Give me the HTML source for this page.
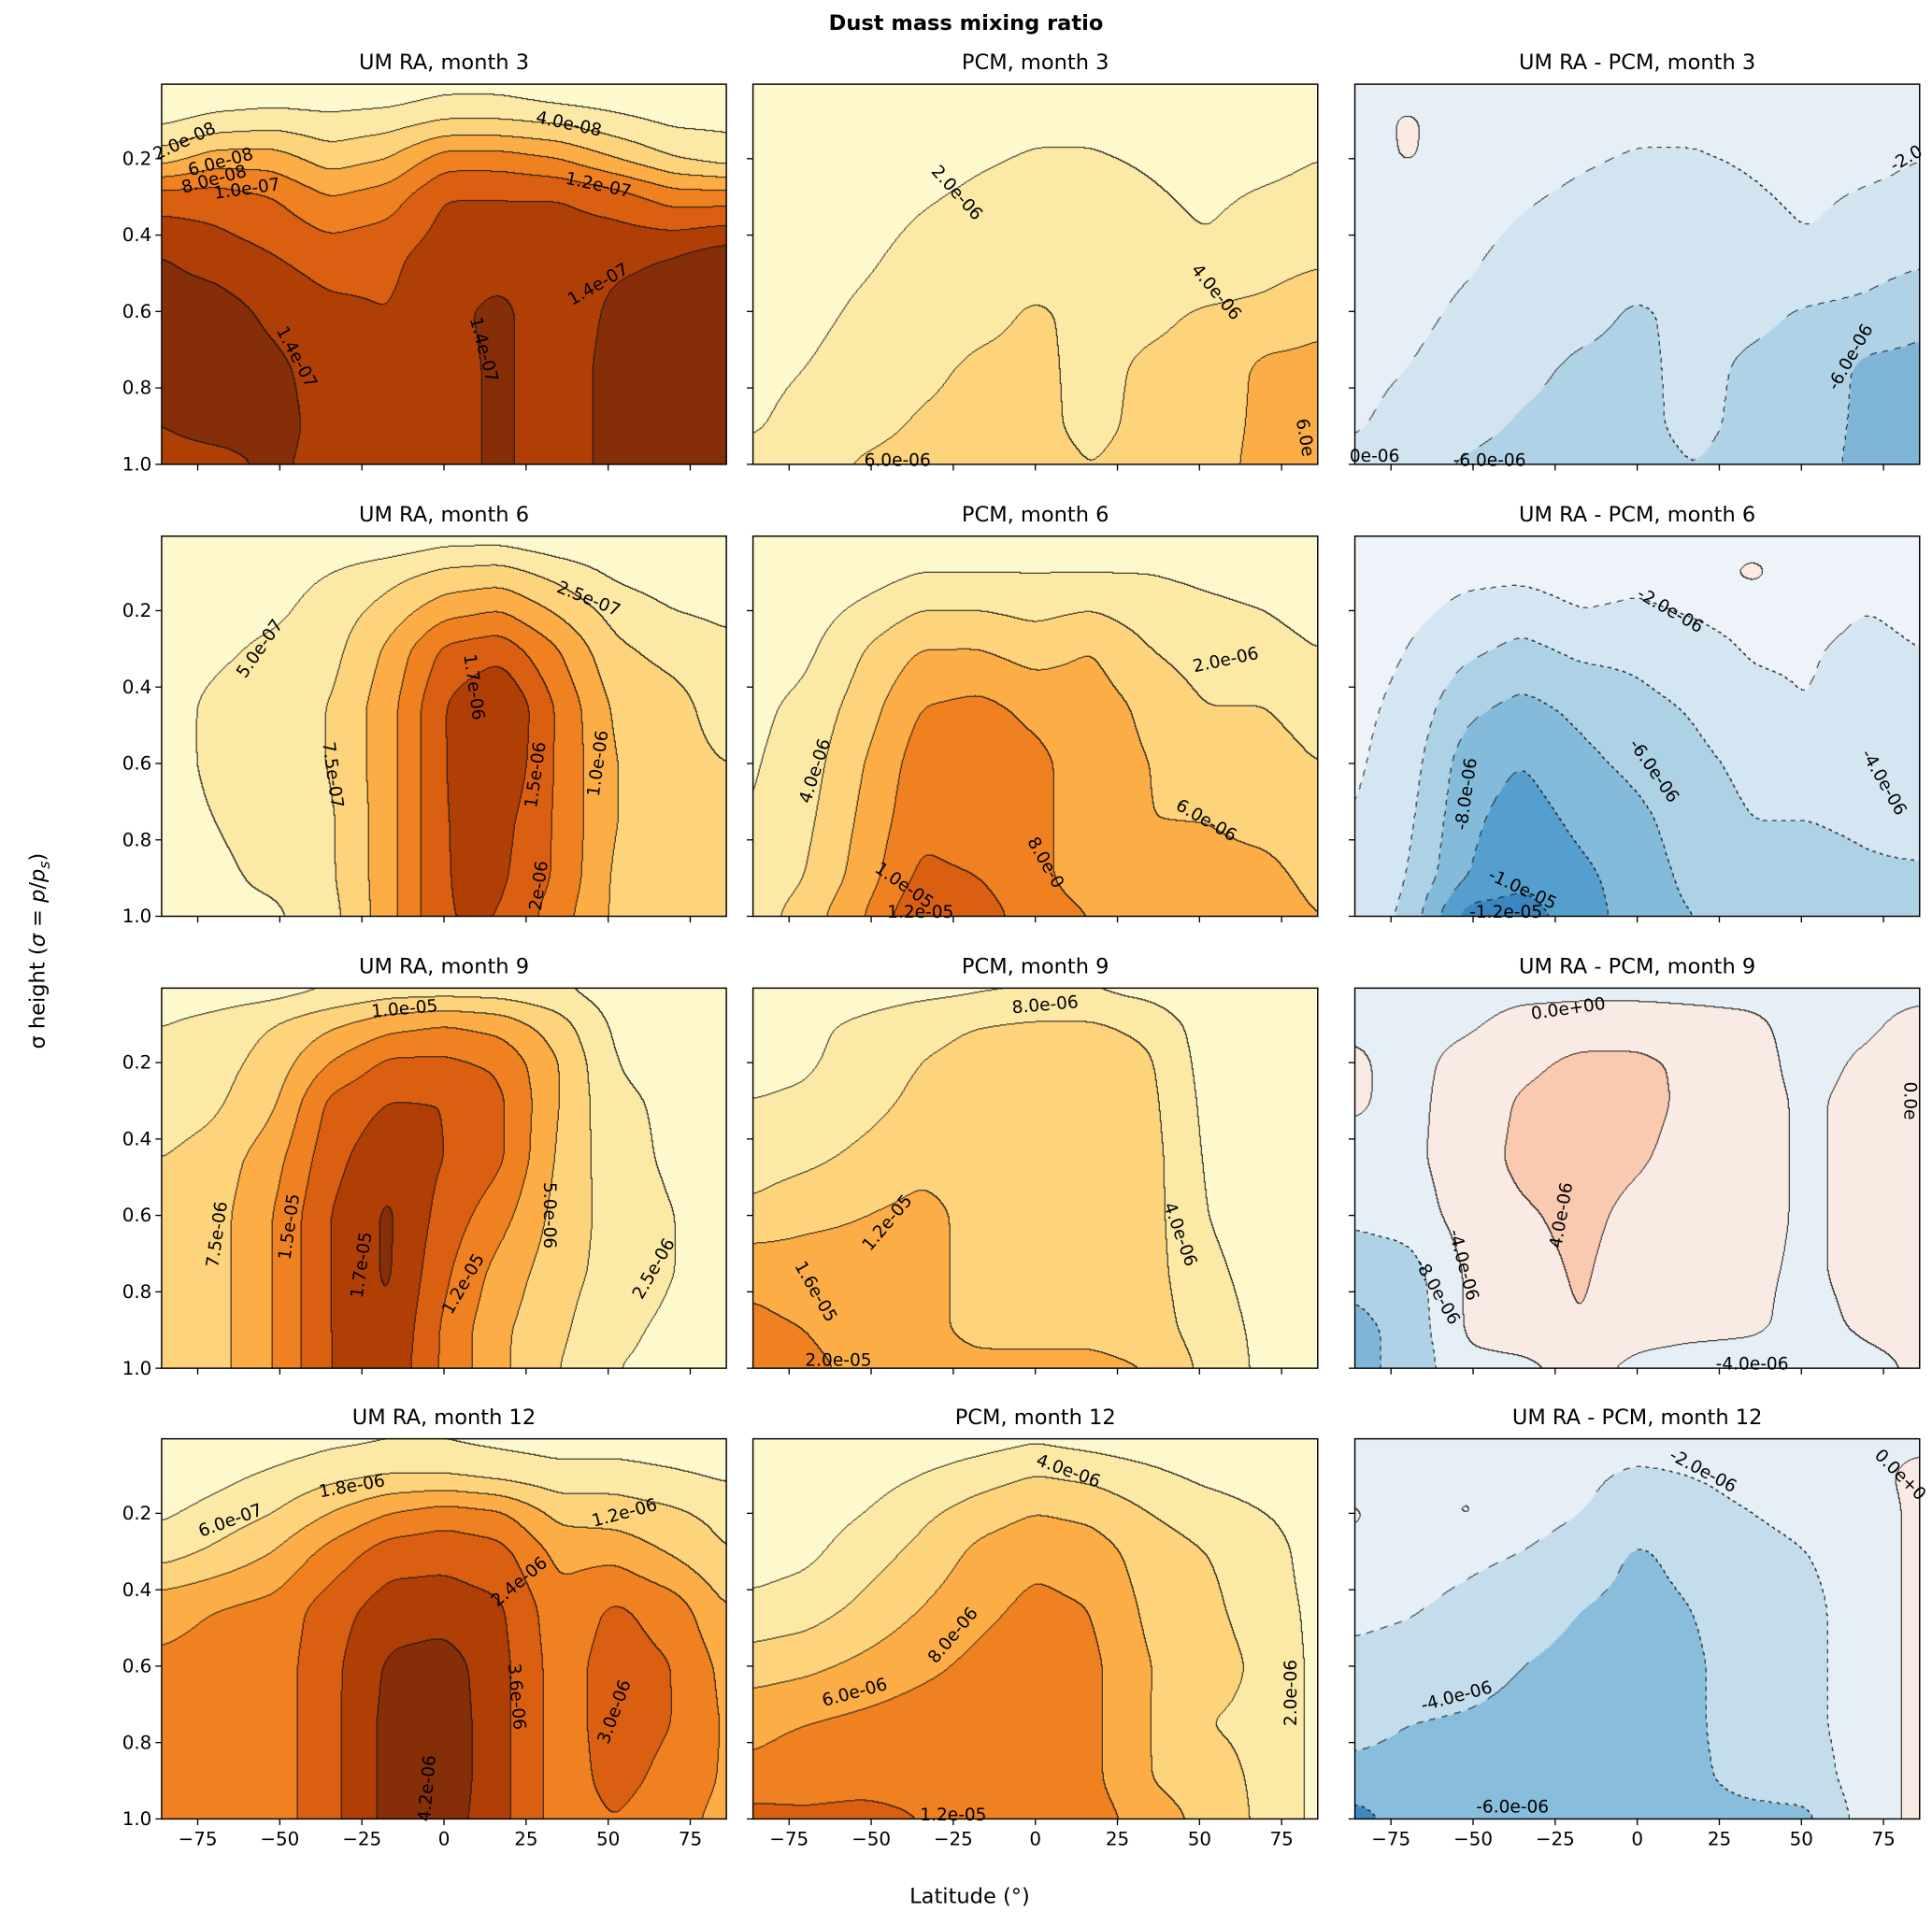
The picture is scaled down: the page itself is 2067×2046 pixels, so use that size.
<!DOCTYPE html>
<html><head><meta charset="utf-8">
<style>
html,body{margin:0;padding:0;background:#fff;}
#wrap{position:absolute;left:0;top:0;width:1560px;height:1543.4px;transform:scale(1.325);transform-origin:0 0;}
canvas{position:absolute;}
svg{position:absolute;left:0;top:0;}
text{font-family:"DejaVu Sans","Liberation Sans",sans-serif;fill:#000;}
</style></head>
<body>
<div id="wrap">
<svg id="svg" width="1560" height="1544" viewBox="0 0 1560 1544"></svg>
</div>
<script>
// ---- grid coordinates ----
const LATS=[-86,-70,-52,-35,-17,0,17,35,52,70,86];
const SIGS=[0,0.1,0.2,0.3,0.45,0.6,0.75,0.9,1.0];
const xTicks=[-75,-50,-25,0,25,50,75];
const xTickLabels=["\u221275","\u221250","\u221225","0","25","50","75"];
const yTicks=[0.2,0.4,0.6,0.8,1.0];
const yTickLabels=["0.2","0.4","0.6","0.8","1.0"];

// ---- panel values (rows = sigma levels, cols = latitudes) ----
const umM3=[ // units 1e-8
[0,0,0,0,0,1,1,0,0,0,0],
[1.5,2.5,3,2.5,3,4,4,3.5,2.5,1.5,1.5],
[5,7,7,5,6,9,9,8,6,4,3],
[11,11,10,8,9,12,12,12,11,9,9],
[14,13,12,11,11.5,13,13,13,13.5,14,15],
[15,15,13.5,12.5,12,13.5,14.5,12.5,14.5,15,15],
[15,15,14.5,13,12,13,14.5,12.5,15,15,15],
[14,15,15,13,12,13,14.5,12.5,15,15,15],
[13,13,14.5,13,12,13,14.5,12.5,15,15,15]];
const pcmM3=[ // units 1e-6
[1,1,1,1,1,1,1,1,1,1,1],
[1,1,1,1,1,1.5,1.5,1,1,1,1],
[1,1,1,1.3,1.8,2.2,2.2,1.8,1.3,1.5,2],
[1,1,1.2,1.8,2.3,2.6,2.6,2.2,1.7,2.2,2.5],
[1,1.2,1.7,2.5,3,3,3,2.7,2.2,3,3.5],
[1.2,1.5,2.3,3,3.5,4.2,3.6,3.6,4.2,4.5,5.5],
[1.5,2,2.8,3.6,4.3,4.4,3.5,4.3,4.6,6.5,6.5],
[1.8,2.6,3.5,4.2,4.5,4.5,3.5,4.5,5,6.5,7],
[2.5,3.5,4.2,4.6,4.7,4.7,4,4.7,5.2,6.6,7]];
const diffM3=[ // units 1e-6
[-0.5,-1,-1,-1,-1,-1,-1,-1,-1,-1,-1],
[-1,0.3,-1,-1,-1,-1.5,-1.5,-1,-1,-1,-1],
[-1,0.2,-1,-1.3,-1.8,-2.2,-2.2,-1.8,-1.3,-1.5,-2],
[-1,-1,-1.2,-1.8,-2.3,-2.6,-2.6,-2.2,-1.7,-2.2,-2.5],
[-1,-1.2,-1.7,-2.5,-3,-3,-3,-2.7,-2.2,-3,-3.5],
[-1.2,-1.5,-2.3,-3,-3.5,-4.2,-3.6,-3.6,-4.2,-4.5,-5.5],
[-1.5,-2,-2.8,-3.6,-4.3,-4.4,-3.5,-4.3,-4.6,-6.5,-6.5],
[-1.8,-2.6,-3.5,-4.2,-4.5,-4.5,-3.5,-4.5,-5,-6.5,-7],
[-2.5,-3.5,-4.2,-4.6,-4.7,-4.7,-4,-4.7,-5.2,-6.6,-7]];
const umM6=[ // units 1e-7
[0,0,0,0,0,1,1,0,0,0,0],
[0.5,1,1.5,2.5,4,5.5,6,4,2,1,0.5],
[1,1.5,2,3.5,6,9,10,7,4,2.5,2],
[1.5,2,3,4,8,13,14,10,5.5,4,3],
[1.5,3,4,5,9,15,18,12,7,6,3.5],
[1.5,3,4,5,9,15,17.5,12,7.5,6,5],
[1.5,2.5,3.5,4.5,9,15,16,12,7.5,6,5.5],
[1.5,2,3,4.5,9,15,15.5,12,7,6,5.5],
[1.5,2,2,4,9,15,15,11,7,6,5.5]];
const pcmM6=[ // units 1e-6
[0,0,0,0,0,0,0,0,0,0,0],
[0,0.5,1,2,2,2,2,2,1.5,1,0.5],
[0.5,1,2.5,4,4,3.5,4,3,2.5,2,1],
[1,1.5,4,6,6,5,6,4,3,3,2],
[1.5,2.5,5,8,8.5,7.5,7,5.5,4,4,3],
[1.8,3,6,9,9,8.5,7,6,5,5,4],
[2,3.5,6.5,9.5,9,8.5,7,6,6,5.5,5],
[2.5,4,7,10.5,10,8.5,7,6.5,6.5,6.5,5.5],
[3,5,8,12,11,9,8,7,7,7,6]];
const diffM6=[ // units 1e-6
[-1,-1,-1,-1,-1,-1,-1,-1,-1,-1,-1],
[-1,-1,-1.5,-1.5,-1,-1.5,-1,0.5,-1,-1,-1],
[-1,-1.5,-2.5,-3,-2,-2.3,-1.8,-1.2,-1.3,-2,-1.5],
[-1.2,-2,-3.5,-4.5,-3.5,-3.5,-2.8,-1.8,-1.8,-2.5,-2],
[-1.5,-2.5,-5.5,-6.5,-5.5,-4.5,-3.8,-2.5,-2,-3,-2.5],
[-1.7,-3,-7,-8,-6.5,-5.5,-4.5,-3.5,-3.5,-3.5,-3],
[-2,-3.5,-7.5,-9,-7.5,-6.5,-5,-4,-4,-3.8,-3.5],
[-2.2,-4,-8,-9.5,-8.5,-7,-5.5,-4.5,-4.5,-4.2,-4.2],
[-2.5,-4.5,-11,-11,-9,-7,-6,-6,-6,-6,-5]];
const umM9=[ // units 1e-6
[0,0.5,1,2,3,3,3,2.5,1,0,0],
[2.5,3.5,5,7,9,10,9,6,2,1,0.5],
[3,4,6,10,13,13,12,7.5,2.5,1.5,1],
[3.5,4.5,7,13,15,15,13,7.5,3,2,1.5],
[5,6,9,14,17,15,13,7,3.5,2,1.5],
[5.5,6.5,10,15,18,14,11,6.5,4,2.5,1.5],
[5.5,6.5,10,15,18,13,9,6,4,2.5,1.5],
[5.5,6.5,10,15,17.5,12,8,5.5,3,2,1.5],
[5.5,6.5,10,15,17,12,8,5,2.5,2,1.5]];
const pcmM9=[ // units 1e-6
[0,0,1,2,3,3.5,3.5,2,0,0,0],
[2,3,5,7,8,8.5,8.5,7,2,1,1],
[3,3.5,5.5,8,9,10,10,8.5,2.5,1,1],
[4,4.5,6.5,9,10,10,10,9,3,1.5,1],
[6,7,9,11,11,10.5,10.5,9.5,3.5,2,1],
[9,11,12,13,11,10.5,10.5,9.5,4,2,1],
[15,14,13.5,13,11,10.5,10.5,9.5,5,2.5,1.5],
[17,16,14,13,11,11,11,10,6,3,1.5],
[19,17,15,13.5,13,13,13,12,7,3,2]];
const diffM9=[ // units 1e-6
[-1,-1,-1,-1,-1,-1,-1,-1,-1,-1,-1],
[-0.5,-1,-0.5,1,1.5,1.5,1,0.5,-1,-0.5,1],
[0.5,-1,1,3,5,5,3,1,-1,0.5,1.5],
[0.5,-1,1.5,4.5,5.5,5.5,3,1,-0.5,1,1.5],
[-1,-1,2,5,5.5,4.5,2.5,1,-0.5,1,1.5],
[-3,-2,1.5,3.5,5,3,2,1,-0.5,1,1.5],
[-7,-6,0.5,2.5,4.5,2,1.5,0.5,-0.5,1,1.5],
[-9,-7,0.5,2,4,1.5,1,0.5,-1,0.5,1],
[-9,-7,-1,-1,1,-1,-2,-2,-3,-1,0.5]];
const umM12=[ // units 1e-7
[0,1,2,4,5,5,4,3,2,1,0],
[2,4,7,10,12,12,10,8,9,7,5],
[5,8,12,18,24,27,25,16,15,13,10],
[9,13,18,26,33,34,32,22,22,17,12],
[22,24,26,33,39,39,37,26,31,27,18],
[25,26,27,34,43,45,38,27,33,30,22],
[25,26,27,34,44,46,38,27,33,30,23],
[25,26,27,34,44,46,38,27,32,28,23],
[25,26,27,34,44,45,38,27,30,26,22]];
const pcmM12=[ // units 1e-6
[0,0,0,0.5,1,1.5,1,0.5,0,0,0],
[0,0.5,1,2,3,4,3.5,2.5,1.5,1,0.5],
[0.5,1,2,3.5,5,6,5.5,4,3,2,1],
[1,1.5,3,4.5,6.5,7.5,7,5,4,3,1],
[2.5,3,4.5,6,7.5,8.5,8,5.5,4.5,3,1.5],
[5,5.5,6.5,7.5,8.5,9,8.5,6,5,3.5,1.5],
[7.5,8,8.5,9,9,9,8.5,6,4,3.5,1.5],
[8.5,9,9,9,9,9,8.5,6,5,3.5,1.5],
[11,10.5,11,10,10,10,9,7,5.5,3.5,1.5]];
const diffM12=[ // units 1e-6
[-0.5,-0.5,-0.5,-0.5,-0.5,-0.5,-0.5,-0.5,-0.5,-0.5,-0.5],
[-1,-0.5,-0.5,-1,-1.5,-2.5,-2,-1.5,-1,-0.5,0.5],
[0.3,-1,0.3,-1,-2,-3,-2.5,-2,-1.5,-1,0.5],
[-0.5,-1,-1.5,-2,-3,-4.2,-3.5,-2.5,-2,-1,0.5],
[-1.5,-1.8,-2.5,-3.2,-4,-4.5,-4,-3,-2.5,-1,0.5],
[-2.5,-2.8,-3.3,-4,-4.5,-4.5,-4.3,-3,-2.5,-1,0.5],
[-3.5,-4,-4.2,-4.5,-4.5,-4.5,-4.3,-3,-2.5,-1,0.5],
[-4.5,-4.5,-4.5,-4.5,-4.5,-4.5,-4.3,-3.5,-3,-1,0.5],
[-7,-5,-6,-6,-5,-5,-4.5,-4.5,-4.5,-1,0.5]];

// ---- contour levels ----
const lvUmM3=[2,4,6,8,10,12,14];
const lvPcmM3=[2,4,6];
const lvDiffM3=[-6,-4,-2,0];
const lvUmM6=[2.5,5,7.5,10,12.5,15,17.5];
const lvPcmM6=[2,4,6,8,10,12];
const lvDiffM6=[-12,-10,-8,-6,-4,-2,0];
const lvUmM9=[2.5,5,7.5,10,12.5,15,17.5];
const lvPcmM9=[4,8,12,16,20];
const lvDiffM9=[-8,-4,0,4];
const lvUmM12=[6,12,18,24,30,36,42];
const lvPcmM12=[2,4,6,8,10,12];
const lvDiffM12=[-6,-4,-2,0];

const OR=["#fef8cd","#fde9a6","#fdd47c","#fcad46","#f08121","#da5f10","#b03f06","#852e08"];
const BL7=["#3b86c0","#3b86c0","#559fcf","#84bbdb","#add2e6","#d4e6f1","#edf3f8","#fbe9e2"];

const panels=[
 {t:"UM RA, month 3",d:umM3,lv:lvUmM3,c:OR,lab:[["2.0e-08",-79,0.155,-25],["4.0e-08",38,0.11,12],["6.0e-08",-68,0.21,-15],["8.0e-08",-70,0.255,-15],["1.0e-07",-60,0.28,-8],["1.2e-07",47,0.27,12],["1.4e-07",-45,0.72,62],["1.4e-07",12,0.7,75],["1.4e-07",47,0.53,-30]]},
 {t:"PCM, month 3",d:pcmM3,lv:lvPcmM3,c:OR,lab:[["2.0e-06",-24,0.29,48],["4.0e-06",55,0.55,50],["6.0e-06",-42,0.99,0],["6.0e",82,0.93,80]]},
 {t:"UM RA - PCM, month 3",d:diffM3,lv:lvDiffM3,c:["#7fb6d8","#b0d2e6","#d1e4f0","#e6eff6","#f9ebe4"],lab:[["-2.0",82,0.2,-30],["-6.0e-06",65,0.72,-60],["-6.0e-06",-45,0.99,0],["0e-06",-80,0.98,0]]},
 {t:"UM RA, month 6",d:umM6,lv:lvUmM6,c:OR,lab:[["5.0e-07",-56,0.3,-55],["2.5e-07",44,0.17,22],["7.5e-07",-34,0.63,82],["1.7e-06",9,0.4,82],["1.5e-06",28,0.63,-82],["1.0e-06",47,0.6,-82],["2e-06",29,0.92,-82]]},
 {t:"PCM, month 6",d:pcmM6,lv:lvPcmM6,c:OR,lab:[["4.0e-06",-67,0.62,-72],["2.0e-06",58,0.33,-12],["6.0e-06",52,0.75,30],["8.0e-0",3,0.86,60],["1.0e-05",-40,0.92,35],["1.2e-05",-35,0.99,0]]},
 {t:"UM RA - PCM, month 6",d:diffM6,lv:lvDiffM6,c:BL7,lab:[["-2.0e-06",10,0.2,30],["-4.0e-06",75,0.65,60],["-6.0e-06",5,0.62,55],["-8.0e-06",-52,0.68,-82],["-1.0e-05",-35,0.93,25],["-1.2e-05",-40,0.99,0]]},
 {t:"UM RA, month 9",d:umM9,lv:lvUmM9,c:OR,lab:[["1.0e-05",-12,0.06,-5],["7.5e-06",-69,0.65,-82],["1.5e-05",-47,0.63,-82],["1.7e-05",-25,0.73,-82],["1.2e-05",6,0.78,-60],["5.0e-06",32,0.6,90],["2.5e-06",64,0.74,-60]]},
 {t:"PCM, month 9",d:pcmM9,lv:lvPcmM9,c:OR,lab:[["8.0e-06",3,0.05,-5],["4.0e-06",44,0.65,70],["1.2e-05",-45,0.62,-50],["1.6e-05",-67,0.8,60],["2.0e-05",-60,0.98,0]]},
 {t:"UM RA - PCM, month 9",d:diffM9,lv:lvDiffM9,c:["#7fb6d8","#b0d2e6","#e6eff6","#f9ebe4","#f9c9b0"],lab:[["0.0e+00",-21,0.06,-8],["4.0e-06",-23,0.6,-80],["-4.0e-06",-53,0.73,75],["-8.0e-06",-61,0.8,60],["-4.0e-06",35,0.99,0],["0.0e",83,0.3,90]]},
 {t:"UM RA, month 12",d:umM12,lv:lvUmM12,c:OR,lab:[["6.0e-07",-65,0.22,-20],["1.8e-06",-28,0.13,-10],["1.2e-06",55,0.2,-15],["2.4e-06",23,0.38,-40],["3.6e-06",22,0.68,85],["3.0e-06",52,0.72,-70],["4.2e-06",-5,0.92,-85]]},
 {t:"PCM, month 12",d:pcmM12,lv:lvPcmM12,c:OR,lab:[["4.0e-06",10,0.09,20],["6.0e-06",-55,0.67,-15],["8.0e-06",-25,0.52,-50],["2.0e-06",78,0.67,-90],["1.2e-05",-25,0.99,0]]},
 {t:"UM RA - PCM, month 12",d:diffM12,lv:lvDiffM12,c:["#3d8ac3","#88bddc","#c4dded","#e6eff6","#f9ebe4"],lab:[["-2.0e-06",20,0.09,28],["-4.0e-06",-55,0.68,-15],["-6.0e-06",-38,0.97,0],["0.0e+0",80,0.1,45]]}
];

const COLX=[130.5,608,1094], ROWY=[68,433,798,1162], PW=456, PH=307;
const S=1.325;
const svg=document.getElementById('svg');
const wrap=document.getElementById('wrap');
const NS="http://www.w3.org/2000/svg";
function mk(tag,attrs,parent){const e=document.createElementNS(NS,tag);for(const k in attrs)e.setAttribute(k,attrs[k]);(parent||svg).appendChild(e);return e;}
function xs(lat,x0){return x0+(lat+86)/172*PW;}
function ys(sig,y0){return y0+(sig-0.005)/0.995*PH;}
function seg(arr,v){let i=0;while(i<arr.length-2&&v>arr[i+1])i++;const t=Math.max(0,Math.min(1,(v-arr[i])/(arr[i+1]-arr[i])));return [i,t];}
function field(d,lat,sig){const [i,tx]=seg(LATS,lat),[j,ty]=seg(SIGS,sig);
 const a=d[j][i],b=d[j][i+1],c=d[j+1][i],e=d[j+1][i+1];
 return (a*(1-tx)+b*tx)*(1-ty)+(c*(1-tx)+e*tx)*ty;}
function band(lv,v){let k=0;while(k<lv.length&&v>=lv[k])k++;return k;}
function hex(h){return [parseInt(h.substr(1,2),16),parseInt(h.substr(3,2),16),parseInt(h.substr(5,2),16)];}
function blur(F,w,h,r){ // separable box blur with clamped edges
 const T=new Float32Array(w*h);
 for(let y=0;y<h;y++)for(let x=0;x<w;x++){let s=0;for(let k=-r;k<=r;k++){const xx=Math.min(w-1,Math.max(0,x+k));s+=F[y*w+xx];}T[y*w+x]=s/(2*r+1);}
 for(let y=0;y<h;y++)for(let x=0;x<w;x++){let s=0;for(let k=-r;k<=r;k++){const yy=Math.min(h-1,Math.max(0,y+k));s+=T[yy*w+x];}F[y*w+x]=s/(2*r+1);}
}

// title & axis labels
let t=mk('text',{x:780,y:24,'text-anchor':'middle','font-size':17,'font-weight':'bold'});t.textContent="Dust mass mixing ratio";

t=mk('text',{x:783,y:1537,'text-anchor':'middle','font-size':17});t.textContent="Latitude (\u00b0)";

t=mk('text',{x:0,y:0,'text-anchor':'middle','font-size':17,transform:'translate(36,768) rotate(-90)'});
t.innerHTML='\u03c3 height (<tspan font-style="italic">\u03c3</tspan> = <tspan font-style="italic">p</tspan>/<tspan font-style="italic">p</tspan><tspan font-size="12" dy="4" font-style="italic">s</tspan><tspan dy="-4">)</tspan>';


panels.forEach((p,idx)=>{
 const col=idx%3,row=Math.floor(idx/3),x0=COLX[col],y0=ROWY[row];
 const cw=Math.round(PW*S),ch=Math.round(PH*S);
 const cv=document.createElement('canvas');cv.width=cw;cv.height=ch;
 cv.style.left=x0+'px';cv.style.top=y0+'px';cv.style.width=PW+'px';cv.style.height=PH+'px';
 
 
 wrap.insertBefore(cv,svg);
 const ctx=cv.getContext('2d');const img=ctx.createImageData(cw,ch);
 const F=new Float32Array(cw*ch);
 for(let y=0;y<ch;y++){const sig=0.005+(y+0.5)/ch*0.995;
  for(let x=0;x<cw;x++){const lat=-86+(x+0.5)/cw*172;F[y*cw+x]=field(p.d,lat,sig);}}
 blur(F,cw,ch,9);blur(F,cw,ch,9);
 const B=new Int16Array(cw*ch);const cols=p.c.map(hex);
 for(let i=0;i<cw*ch;i++)B[i]=band(p.lv,F[i]);
 for(let y=0;y<ch;y++)for(let x=0;x<cw;x++){
  const i=y*cw+x,b=B[i];let col2=cols[Math.min(b,cols.length-1)];
  let edge=-1;
  if(x<cw-1&&B[i+1]!==b)edge=Math.max(b,B[i+1]);
  if(y<ch-1&&B[i+cw]!==b)edge=Math.max(edge,Math.max(b,B[i+cw]));
  if(edge>=0){const lvv=p.lv[edge-1];
   if(!(lvv<0&&Math.floor((x+y)/5)%2===1))col2=[20,20,20];}
  img.data[i*4]=col2[0];img.data[i*4+1]=col2[1];img.data[i*4+2]=col2[2];img.data[i*4+3]=255;}
 ctx.putImageData(img,0,0);

 const g=mk('g',{});
 
 
 p.lab.forEach(l=>{const lx=xs(l[1],x0),ly=ys(l[2],y0);
  const tt=mk('text',{x:0,y:0,'text-anchor':'middle','dominant-baseline':'central','font-size':14,transform:`translate(${lx},${ly}) rotate(${l[3]})`},g);
  tt.textContent=l[0];
  
  });
 const fr=mk('rect',{x:x0,y:y0,width:PW,height:PH,fill:'none',stroke:'#000','stroke-width':1.1},g);
 
 const tl=mk('text',{x:x0+PW/2,y:y0-12,'text-anchor':'middle','font-size':17},g);tl.textContent=p.t;
 
 xTicks.forEach((v,k)=>{const X=xs(v,x0);mk('line',{x1:X,x2:X,y1:y0+PH,y2:y0+PH+5,stroke:'#000','stroke-width':1},g);
  if(row===3){const tx=mk('text',{x:X,y:y0+PH+21,'text-anchor':'middle','font-size':15},g);tx.textContent=xTickLabels[k];
   }});
 yTicks.forEach((v,k)=>{const Y=ys(v,y0);mk('line',{x1:x0-5,x2:x0,y1:Y,y2:Y,stroke:'#000','stroke-width':1},g);
  if(col===0){const ty=mk('text',{x:x0-8,y:Y+5,'text-anchor':'end','font-size':15},g);ty.textContent=yTickLabels[k];
   }});
});
</script>
</body></html>
